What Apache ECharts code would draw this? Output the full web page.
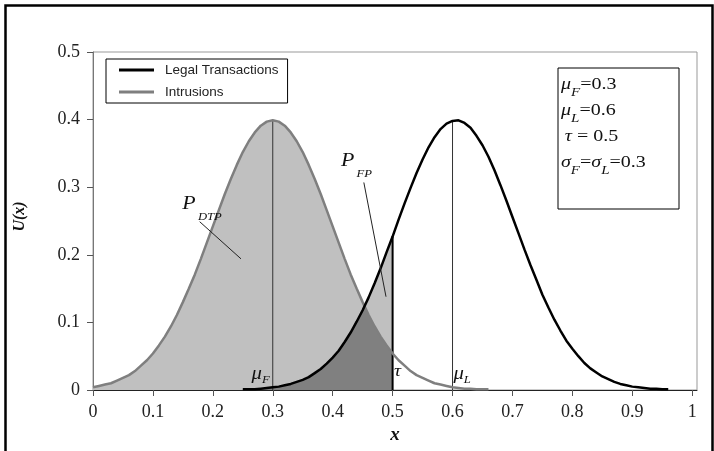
<!DOCTYPE html>
<html>
<head>
<meta charset="utf-8">
<script src="https://cdn.jsdelivr.net/npm/echarts@6/dist/echarts.min.js"></script>
<style>
html,body{margin:0;padding:0;background:#fff;}
#c{width:714px;height:451px;}
</style>
</head>
<body>
<div id="c"></div>
<script>
// ---- data ----
const xTickValues = [0,0.1,0.2,0.3,0.4,0.5,0.6,0.7,0.8,0.9,1];
const sampleStep = 0.01;
const intrusionStartX = 0;      // intrusion curve sampled from x=0 to 0.66
const intrusionU = [
0.004,0.006,0.008,0.010,0.014,0.018,0.022,0.028,0.036,0.044,
0.054,0.066,0.079,0.094,0.111,0.130,0.150,0.171,0.194,0.218,
0.242,0.266,0.290,0.312,0.333,0.352,0.368,0.381,0.391,0.397,
0.399,0.397,0.391,0.381,0.368,0.352,0.333,0.312,0.290,0.266,
0.242,0.218,0.194,0.171,0.150,0.130,0.111,0.094,0.079,0.066,
0.054,0.044,0.036,0.028,0.022,0.018,0.014,0.010,0.008,0.006,
0.004,0.003,0.002,0.002,0.001,0.001,0.001];
const legalStartX = 0.25;       // legal curve sampled from x=0.25 to 0.96
const legalU = [
0.001,0.001,0.001,0.002,0.003,
0.004,0.005,0.007,0.009,0.012,0.015,0.019,0.025,0.031,0.039,
0.048,0.058,0.071,0.085,0.101,0.118,0.137,0.158,0.180,0.204,
0.227,0.252,0.276,0.299,0.321,0.341,0.359,0.374,0.386,0.394,
0.398,0.399,0.395,0.388,0.376,0.362,0.345,0.325,0.303,0.280,
0.256,0.232,0.208,0.185,0.163,0.141,0.122,0.104,0.088,0.073,
0.061,0.050,0.040,0.032,0.026,0.020,0.016,0.012,0.009,0.007,
0.005,0.004,0.003,0.002,0.002,0.001,0.001];
const crossPoint = [0.454, 0.125];   // where the two curves cross
const muF = 0.3, muL = 0.6, tau = 0.5;
const seriesNames = ['Legal Transactions','Intrusions'];
// annotation anchors (data coordinates: left edge, vertical middle)
const labelDTP = [0.149, 0.2756];
const labelFP = [0.4138, 0.3385];
const labelMuF = [0.2646, 0.0227];
const labelMuL = [0.6016, 0.0227];
const labelTau = [0.5024, 0.0274];
const leaderDTP = [[0.178,0.249],[0.247,0.194]];
const leaderFP = [[0.452,0.307],[0.489,0.138]];

// ---- build point lists ----
const r2 = v => Math.round(v*100)/100;
const intrusionPts = intrusionU.map((u,i)=>[r2(intrusionStartX+i*sampleStep),u]);
const legalPts = legalU.map((u,i)=>[r2(legalStartX+i*sampleStep),u]);
const valAt = (pts,x) => { const p = pts.find(q=>Math.abs(q[0]-x)<1e-9); return p?p[1]:0; };
const cx = crossPoint[0];
const lightUnderLegal = [crossPoint].concat(legalPts.filter(p=>p[0]>cx && p[0]<=tau+1e-9));
const lightUnderIntr = intrusionPts.filter(p=>p[0]<=tau+1e-9);
const darkPts = legalPts.filter(p=>p[0]<cx).concat([crossPoint])
  .concat(intrusionPts.filter(p=>p[0]>cx && p[0]<=tau+1e-9));
const muFLine = [[muF,0],[muF,valAt(intrusionPts,muF)]];
const muLLine = [[muL,0],[muL,valAt(legalPts,muL)]];
const tauLine = [[tau,0],[tau,valAt(legalPts,tau)]];

const SERIF = '"Liberation Serif","Times New Roman",serif';
const SANS = '"Liberation Sans",Arial,sans-serif';

function thinLine(pts,color,width,z){
  return {type:'line', data:pts, symbol:'none', silent:true, z:z||5,
    lineStyle:{color:color,width:width}, itemStyle:{color:color}};
}

const chart = echarts.init(document.getElementById('c'), null, {renderer:'canvas'});
chart.setOption({
  animation:false,
  backgroundColor:'#fff',
  grid:{left:93, top:52, right:17, bottom:61, show:true, borderColor:'#999', borderWidth:1, backgroundColor:'#fff'},
  xAxis:{type:'value', min:0, max:1.008,
    name:'x', nameLocation:'middle', nameGap:33,
    nameTextStyle:{fontFamily:SERIF,fontStyle:'italic',fontWeight:'bold',fontSize:19,color:'#111'},
    axisLine:{show:true,onZero:false,lineStyle:{color:'#222',width:1}},
    axisTick:{show:true,length:6,customValues:xTickValues,lineStyle:{color:'#555'}},
    axisLabel:{customValues:xTickValues,margin:13,fontFamily:SERIF,fontSize:18,color:'#222',formatter:v=>String(v)},
    splitLine:{show:false}},
  yAxis:{type:'value', min:0, max:0.5, interval:0.1,
    axisLine:{show:true,lineStyle:{color:'#777',width:1}},
    axisTick:{show:true,length:6,lineStyle:{color:'#555'}},
    axisLabel:{margin:13,fontFamily:SERIF,fontSize:18,color:'#222',formatter:v=>String(v)},
    splitLine:{show:false}},
  legend:{data:seriesNames, orient:'vertical', left:106, top:59,
    padding:[4,9,4,13], itemGap:8, itemWidth:35, itemHeight:3, icon:'rect',
    borderColor:'#000', borderWidth:1, backgroundColor:'#fff',
    textStyle:{fontFamily:SANS,fontSize:13.5,color:'#222',padding:[0,0,0,6]}},
  series:[
    {name:'lightL', type:'line', data:lightUnderLegal, symbol:'none', silent:true, z:1,
      lineStyle:{width:0}, areaStyle:{color:'#c0c0c0',opacity:1}},
    {name:'lightF', type:'line', data:lightUnderIntr, symbol:'none', silent:true, z:1,
      lineStyle:{width:0}, areaStyle:{color:'#c0c0c0',opacity:1}},
    {name:'dark', type:'line', data:darkPts, symbol:'none', silent:true, z:2,
      lineStyle:{width:0}, areaStyle:{color:'#808080',opacity:1}},
    thinLine(muFLine,'#333',1,3),
    thinLine(muLLine,'#333',1,3),
    thinLine(tauLine,'#000',2,3),
    {name:seriesNames[1], type:'line', data:intrusionPts, symbol:'none', z:6,
      lineStyle:{color:'#7f7f7f',width:2.5}, itemStyle:{color:'#7f7f7f'}},
    {name:seriesNames[0], type:'line', data:legalPts, symbol:'none', z:7,
      lineStyle:{color:'#000',width:2.5}, itemStyle:{color:'#000'}},
    thinLine(leaderDTP,'#222',1,8),
    thinLine(leaderFP,'#222',1,8)
  ]
});

// ---- text with sub-scripts, laid out piece by piece ----
const mctx = document.createElement('canvas').getContext('2d');
function piece(text,size,italic,dy,gap){ return {text,size,italic,dy:dy||0,gap:gap||0}; }
function seqGroup(pieces, x, y, scaleX, z){
  let cur = 0;
  const zz = z||50;
  const children = pieces.map(p=>{
    const font = (p.italic?'italic ':'')+p.size+'px '+SERIF;
    mctx.font = font;
    cur += p.gap;
    const el = {type:'text', x:cur, y:p.dy, silent:true, z:zz,
      style:{text:p.text, fontFamily:SERIF, fontSize:p.size, fontStyle:p.italic?'italic':'normal',
        fill:'#111', align:'left', verticalAlign:'middle'}};
    cur += mctx.measureText(p.text).width;
    return el;
  });
  return {type:'group', x:x, y:y, scaleX:scaleX, z:zz, silent:true, children};
}
function at(pt){ return chart.convertToPixel({gridIndex:0}, pt); }

const pDTP = at(labelDTP), pFP = at(labelFP), pMuF = at(labelMuF), pMuL = at(labelMuL), pTau = at(labelTau);
const boxLineY = [85,111,137,163];
const graphics = [
  {type:'rect', left:3, top:3, shape:{width:707,height:470}, silent:true, z:-1,
    style:{fill:'none',stroke:'#000',lineWidth:2.5}},
  {type:'text', x:20, y:216.5, rotation:Math.PI/2, silent:true, z:50,
    style:{text:'U(x)', fontFamily:SERIF, fontStyle:'italic', fontWeight:'bold', fontSize:16,
      fill:'#111', align:'center', verticalAlign:'middle'}},
  seqGroup([piece('P',19,true), piece('DTP',11,true,13,2)], pDTP[0], pDTP[1], 1.15),
  seqGroup([piece('P',19,true), piece('FP',11,true,13,2)], pFP[0], pFP[1], 1.15),
  seqGroup([piece('μ',18,true), piece('F',11,true,5,0)], pMuF[0], pMuF[1], 1.15),
  seqGroup([piece('μ',18,true), piece('L',11,true,5,0)], pMuL[0], pMuL[1], 1.15),
  seqGroup([piece('τ',17,true)], pTau[0], pTau[1], 1.15),
  {type:'rect', shape:{x:558,y:68,width:121,height:141}, z:40, silent:true,
    style:{fill:'#fff',stroke:'#000',lineWidth:1}},
  seqGroup([piece('μ',16,true), piece('F',12,true,8,0), piece('=0.3',16,false,0,0)], 561, boxLineY[0], 1.25, 60),
  seqGroup([piece('μ',16,true), piece('L',12,true,8,0), piece('=0.6',16,false,0,0)], 561, boxLineY[1], 1.25, 60),
  seqGroup([piece('τ',16,true,0,3), piece(' = 0.5',16,false,0,0)], 561, boxLineY[2], 1.25, 60),
  seqGroup([piece('σ',16,true), piece('F',12,true,8,0), piece('=',16,false,0,0), piece('σ',16,true),
            piece('L',12,true,8,0), piece('=0.3',16,false,0,0)], 561, boxLineY[3], 1.25, 60)
];
chart.setOption({graphic:graphics});
</script>
</body>
</html>
